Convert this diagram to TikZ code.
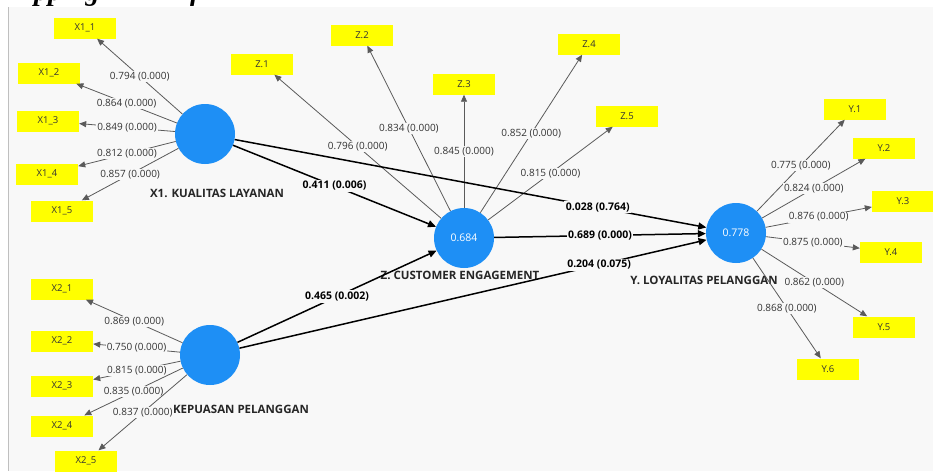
\documentclass[tikz,border=0pt]{standalone}
\usepackage{fontspec}
\setmainfont{Open Sans}
\newfontfamily\titlefont{Liberation Serif}
\usetikzlibrary{arrows.meta}
\definecolor{panel}{HTML}{F8F8F8}
\definecolor{lvblue}{HTML}{1E8FF5}
\definecolor{indyel}{HTML}{FFFF00}
\definecolor{ldgray}{HTML}{333333}
\definecolor{outerln}{HTML}{5A5A5A}
\begin{document}
\begin{tikzpicture}[x=1pt,y=-1pt,
  latent/.style={circle,fill=lvblue,minimum size=60pt,inner sep=0pt,text=white,font=\fontsize{10.5}{11}\selectfont},
  indic/.style={fill=indyel,minimum width=62pt,minimum height=21pt,inner sep=0pt,text=ldgray,font=\fontsize{9.5}{10}\selectfont},
  lvname/.style={font=\bfseries\fontsize{11.5}{12}\selectfont,text=black!85},
  ld/.style={fill=panel,inner sep=1pt,text=ldgray,font=\fontsize{10}{10}\selectfont},
  pc/.style={fill=panel,inner sep=1.5pt,text=black,font=\bfseries\fontsize{10.5}{11}\selectfont},
  outerarr/.style={draw=outerln,line width=0.8pt,-{Triangle[length=7pt,width=6pt]}},
  innerarr/.style={draw=black,line width=1.5pt,-{Triangle[length=8pt,width=7pt]}}
]
\useasboundingbox (0,0) rectangle (933,475);
\fill[white] (0,0) rectangle (933,475);
% clipped title fragment
\node[anchor=base west,inner sep=0pt,font=\titlefont\bfseries\itshape\fontsize{28}{28}\selectfont] (ttl1) at (34,0) {pping};
\node[anchor=base west,inner sep=0pt,font=\titlefont\bfseries\itshape\fontsize{28}{28}\selectfont] (ttl2) at (190,0) {f};
\fill[panel] (8,7) rectangle (933,471);
\draw[black!25] (8,7) -- (8,471);

% latent variables
\node[latent] (X1) at (205,134) {};
\node[latent] (X2) at (210,355) {};
\node[latent] (Z) at (464,238) {0.684};
\node[latent] (Y) at (736,233) {0.778};

\node[lvname] (X1n) at (217,193) {X1. KUALITAS LAYANAN};
\node[lvname] (X2n) at (241,409) {KEPUASAN PELANGGAN};
\node[lvname] (Zn) at (460,275) {Z. CUSTOMER ENGAGEMENT};
\node[lvname] (Yn) at (704,280) {Y. LOYALITAS PELANGGAN};

% indicators
\node[indic] (X11) at (85,28) {X1\_1};
\node[indic] (X12) at (49,73) {X1\_2};
\node[indic] (X13) at (48,121) {X1\_3};
\node[indic] (X14) at (47,174) {X1\_4};
\node[indic] (X15) at (62,211) {X1\_5};

\node[indic] (X21) at (62,289) {X2\_1};
\node[indic] (X22) at (62,341) {X2\_2};
\node[indic] (X23) at (62,386) {X2\_3};
\node[indic] (X24) at (62,426) {X2\_4};
\node[indic] (X25) at (86,461) {X2\_5};

\node[indic] (Z1) at (262,64) {Z.1};
\node[indic] (Z2) at (362,35) {Z.2};
\node[indic] (Z3) at (464,84) {Z.3};
\node[indic] (Z4) at (589,44) {Z.4};
\node[indic] (Z5) at (627,116) {Z.5};

\node[indic] (Y1) at (855,109) {Y.1};
\node[indic] (Y2) at (884,148) {Y.2};
\node[indic] (Y3) at (903,201) {Y.3};
\node[indic] (Y4) at (891,252) {Y.4};
\node[indic] (Y5) at (884,327) {Y.5};
\node[indic] (Y6) at (828,369) {Y.6};

% outer loadings
\draw[outerarr] (X1) -- node[ld] {0.794 (0.000)} (X11);
\draw[outerarr] (X1) -- node[ld] {0.864 (0.000)} (X12);
\draw[outerarr] (X1) -- node[ld] {0.849 (0.000)} (X13);
\draw[outerarr] (X1) -- node[ld] {0.812 (0.000)} (X14);
\draw[outerarr] (X1) -- node[ld] {0.857 (0.000)} (X15);

\draw[outerarr] (X2) -- node[ld] {0.869 (0.000)} (X21);
\draw[outerarr] (X2) -- node[ld] {0.750 (0.000)} (X22);
\draw[outerarr] (X2) -- node[ld] {0.815 (0.000)} (X23);
\draw[outerarr] (X2) -- node[ld] {0.835 (0.000)} (X24);
\draw[outerarr] (X2) -- node[ld] {0.837 (0.000)} (X25);

\draw[outerarr] (Z) -- node[ld] {0.796 (0.000)} (Z1);
\draw[outerarr] (Z) -- node[ld] {0.834 (0.000)} (Z2);
\draw[outerarr] (Z) -- node[ld] {0.845 (0.000)} (Z3);
\draw[outerarr] (Z) -- node[ld] {0.852 (0.000)} (Z4);
\draw[outerarr] (Z) -- node[ld] {0.815 (0.000)} (Z5);

\draw[outerarr] (Y) -- node[ld] {0.775 (0.000)} (Y1);
\draw[outerarr] (Y) -- node[ld] {0.824 (0.000)} (Y2);
\draw[outerarr] (Y) -- node[ld] {0.876 (0.000)} (Y3);
\draw[outerarr] (Y) -- node[ld] {0.875 (0.000)} (Y4);
\draw[outerarr] (Y) -- node[ld] {0.862 (0.000)} (Y5);
\draw[outerarr] (Y) -- node[ld] {0.868 (0.000)} (Y6);

% inner model
\draw[innerarr] (X1) -- node[pc,pos=0.77] {0.028 (0.764)} (Y);
\draw[innerarr] (X1) -- node[pc] {0.411 (0.006)} (Z);
\draw[innerarr] (Z) -- node[pc] {0.689 (0.000)} (Y);
\draw[innerarr] (X2) -- node[pc] {0.465 (0.002)} (Z);
\draw[innerarr] (X2) -- node[pc,pos=0.77] {0.204 (0.075)} (Y);
\end{tikzpicture}
\end{document}
